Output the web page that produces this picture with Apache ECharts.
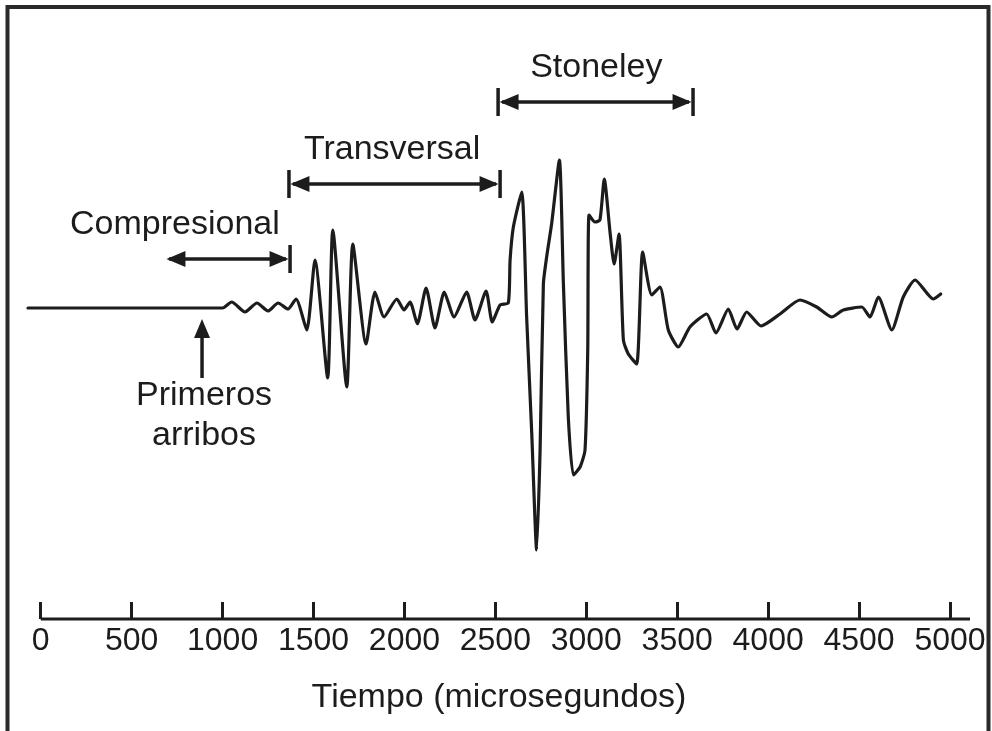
<!DOCTYPE html>
<html>
<head>
<meta charset="utf-8">
<script src="https://cdn.jsdelivr.net/npm/echarts@6/dist/echarts.min.js"></script>
<style>
  html, body { margin: 0; padding: 0; background: #fff; }
  #chart { width: 992px; height: 731px; }
</style>
</head>
<body>
<div id="chart"></div>
<script>
// Full-waveform sonic trace: time (microseconds) vs. relative amplitude
const timeUs = [
  -70, 1000, 1050, 1123, 1189, 1250, 1305, 1360, 1404, 1463,
  1508, 1578, 1606, 1683, 1716, 1789, 1838, 1888, 1958, 1998,
  2031, 2071, 2119, 2168, 2219, 2273, 2342, 2388, 2449, 2483,
  2526, 2571, 2581, 2599, 2645, 2672, 2700, 2727, 2746, 2764,
  2782, 2810, 2852, 2874, 2901, 2929, 2966, 2993, 3008, 3015,
  3048, 3075, 3099, 3131, 3153, 3180, 3204, 3231, 3277, 3310,
  3360, 3405, 3451, 3506, 3570, 3662, 3713, 3781, 3829, 3882,
  3961, 4065, 4175, 4267, 4350, 4413, 4515, 4560, 4606, 4680,
  4743, 4808, 4908, 4949
];
const amplitude = [
  0, 0, 6, -4, 5, -3, 5, -1, 9, -22,
  48, -70, 78, -79, 64, -36, 16, -9, 9, -2,
  6, -16, 20, -20, 16, -9, 16, -12, 17, -14,
  3, 5, 48, 81, 116, -9, -125, -242, -142, 24,
  51, 85, 148, 25, -109, -167, -159, -142, -42, 93,
  86, 88, 129, 75, 44, 74, -32, -46, -56, 56,
  13, 21, -22, -39, -19, -6, -25, -1, -21, -4,
  -18, -6, 8, 1, -9, -2, 1, -9, 11, -22,
  11, 28, 9, 14
];

// Time axis: ticks, drawn extent and title
const tickValues = [0, 500, 1000, 1500, 2000, 2500, 3000, 3500, 4000, 4500, 5000];
const axisLineRange = [0, 5110];
const axisTitle = 'Tiempo (microsegundos)';

// Amplitude window (hidden axis)
const ampMin = -311;
const ampMax = 301;

// Wave-arrival windows: name, start/end time, arrow level (amplitude units)
const spanNames = ['Compresional', 'Transversal', 'Stoneley'];
const spanStart = [683, 1365, 2515];
const spanEnd = [1371, 2526, 3587];
const spanLevel = [49, 124, 206];
const spanLabelTime = [738, 1932, 3055];
const spanStartBar = [false, true, true];

// First-arrival pointer
const firstArrivalTime = 887;
const firstArrivalTip = -11;
const firstArrivalTail = -70;
const firstArrivalText = ['Primeros', 'arribos'];

const INK = '#1c1c1c';
const FONT = '"Liberation Sans", Arial, Helvetica, sans-serif';

const chart = echarts.init(document.getElementById('chart'), null, { renderer: 'canvas' });

chart.setOption({
  animation: false,
  backgroundColor: '#fff',
  grid: { left: 28, right: 22, top: 7, bottom: 112 },
  xAxis: {
    type: 'value',
    min: timeUs[0],
    max: axisLineRange[1],
    splitLine: { show: false },
    axisLine: { show: false, onZero: false },
    axisTick: { show: true, inside: true, length: 17, customValues: tickValues,
      lineStyle: { color: INK, width: 3 } },
    axisLabel: { show: true, customValues: tickValues, margin: 6,
      formatter: v => String(v),
      color: INK, fontSize: 32, fontFamily: FONT },
    name: axisTitle,
    nameLocation: 'middle',
    nameGap: 62,
    nameTextStyle: { color: INK, fontSize: 34, fontFamily: FONT }
  },
  yAxis: {
    type: 'value',
    min: ampMin,
    max: ampMax,
    show: false
  },
  series: [
    {
      // waveform trace
      type: 'line',
      data: timeUs.map((t, i) => [t, amplitude[i]]),
      showSymbol: false,
      smooth: 0.2,
      lineStyle: { color: INK, width: 3.2, join: 'round', cap: 'round' }
    },
    {
      // time-axis baseline starting at t = 0
      type: 'line',
      data: axisLineRange.map(t => [t, ampMin]),
      showSymbol: false,
      silent: true,
      clip: false,
      lineStyle: { color: INK, width: 3 }
    }
  ]
});

// Annotation overlay positioned through the chart's own scales
function px(t, a) { return chart.convertToPixel({ gridIndex: 0 }, [t, a]); }

const HEAD_LEN = 19, HEAD_HALF = 8, BAR_HALF = 14;
const graphics = [];

function arrowHead(tip, dir) {
  // dir: [dx, dy] unit vector that the head points to
  const bx = tip[0] - dir[0] * HEAD_LEN, by = tip[1] - dir[1] * HEAD_LEN;
  const nx = -dir[1] * HEAD_HALF, ny = dir[0] * HEAD_HALF;
  return {
    type: 'polygon',
    shape: { points: [[tip[0], tip[1]], [bx + nx, by + ny], [bx - nx, by - ny]] },
    style: { fill: INK }
  };
}

spanNames.forEach((name, i) => {
  const a = px(spanStart[i], spanLevel[i]);
  const b = px(spanEnd[i], spanLevel[i]);
  graphics.push({
    type: 'line',
    shape: { x1: a[0] + 4, y1: a[1], x2: b[0] - 4, y2: b[1] },
    style: { stroke: INK, lineWidth: 3.5 }
  });
  graphics.push(arrowHead([a[0] + 1.5, a[1]], [-1, 0]));
  graphics.push(arrowHead([b[0] - 1.5, b[1]], [1, 0]));
  graphics.push({
    type: 'line',
    shape: { x1: b[0], y1: b[1] - BAR_HALF, x2: b[0], y2: b[1] + BAR_HALF },
    style: { stroke: INK, lineWidth: 3.5 }
  });
  if (spanStartBar[i]) {
    graphics.push({
      type: 'line',
      shape: { x1: a[0], y1: a[1] - BAR_HALF, x2: a[0], y2: a[1] + BAR_HALF },
      style: { stroke: INK, lineWidth: 3.5 }
    });
  }
  const lp = px(spanLabelTime[i], spanLevel[i]);
  graphics.push({
    type: 'text',
    x: lp[0], y: lp[1] - 34,
    style: { text: name, fill: INK, font: '34px ' + FONT, align: 'center', verticalAlign: 'middle' }
  });
});

// Upward pointer to the first arrivals
const tip = px(firstArrivalTime, firstArrivalTip);
const tail = px(firstArrivalTime, firstArrivalTail);
graphics.push({
  type: 'line',
  shape: { x1: tail[0], y1: tail[1], x2: tip[0], y2: tip[1] + 10 },
  style: { stroke: INK, lineWidth: 3.5 }
});
graphics.push(arrowHead([tip[0], tip[1]], [0, -1]));
firstArrivalText.forEach((line, k) => {
  graphics.push({
    type: 'text',
    x: tip[0] + 2, y: tail[1] + 18 + k * 40,
    style: { text: line, fill: INK, font: '34px ' + FONT, align: 'center', verticalAlign: 'middle' }
  });
});

// Outer frame
graphics.push({
  type: 'rect',
  shape: { x: 7.5, y: 7, width: 981, height: 740 },
  style: { fill: null, stroke: '#2a2a2a', lineWidth: 4 },
  silent: true
});

chart.setOption({ graphic: graphics });
</script>
</body>
</html>
